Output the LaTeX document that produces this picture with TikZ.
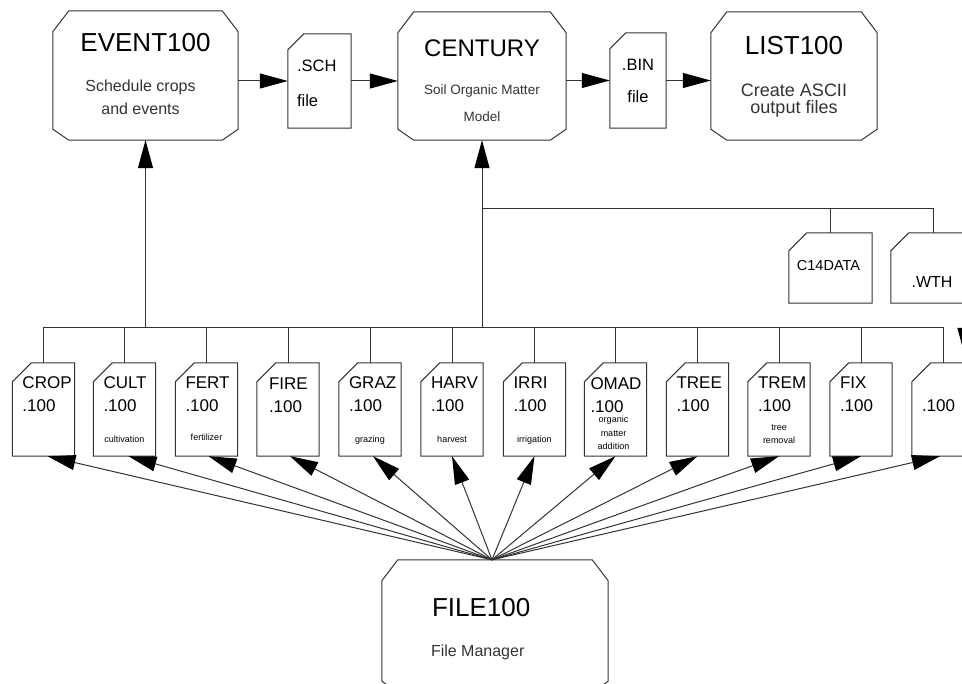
\documentclass[tikz,border=0pt]{standalone}
\usepackage{fontspec}
\setmainfont{Liberation Sans}
\usetikzlibrary{arrows.meta}

% outline of a program box, corners cut
\newcommand{\progbox}[1]{%
  \draw[wire] ([xshift=16pt]#1.north west) -- ([xshift=-16pt]#1.north east)
    -- ([yshift=-21pt]#1.north east) -- ([yshift=11pt]#1.south east)
    -- ([xshift=-16pt]#1.south east) -- ([xshift=16pt]#1.south west)
    -- ([yshift=11pt]#1.south west) -- ([yshift=-21pt]#1.north west) -- cycle;}
% outline of a data file, top left corner cut
\newcommand{\filebox}[2]{%
  \draw[wire] ([xshift=#2]#1.north west) -- (#1.north east) -- (#1.south east)
    -- (#1.south west) -- ([yshift=-#2]#1.north west) -- cycle;}

\begin{document}
\begin{tikzpicture}[x=1pt, y=-1pt,
    wire/.style={draw=black!80, line width=1pt},
    flow/.style={wire, -{Triangle[length=28pt,width=15pt,color=black]}},
    prog/.style={shape=rectangle, inner sep=0pt},
    doc/.style={shape=rectangle, inner sep=0pt},
    lowdoc/.style={doc, minimum width=62pt, minimum height=93pt},
    bigttl/.style={inner sep=0pt, font=\fontsize{26}{30}\selectfont},
    desc/.style={inner sep=0pt, text=black!80, align=center},
    ftitle/.style={inner sep=0pt, anchor=north west, align=left, font=\fontsize{17}{23}\selectfont},
    fdesc/.style={inner sep=0pt, align=center, font=\fontsize{9}{13.5}\selectfont}]
    \useasboundingbox (0,0) rectangle (962,684);
    \clip (0,0) rectangle (962,684);

    % programs
    \node[prog, minimum width=185pt, minimum height=129pt] (event) at (145.5,75.5) {};
    \node[prog, minimum width=168pt, minimum height=128pt] (century) at (482,76) {};
    \node[prog, minimum width=166pt, minimum height=128pt] (list) at (794,76) {};
    \node[prog, minimum width=226pt, minimum height=132pt] (file) at (495,626) {};
    \progbox{event}
    \progbox{century}
    \progbox{list}
    \progbox{file}

    \node[bigttl, anchor=base] (event-t) at ([yshift=-41pt]event.north) {EVENT100};
    \node[desc, anchor=north, font=\fontsize{16}{23}\selectfont] (event-d) at ([xshift=-5pt,yshift=-69pt]event.north) {Schedule crops\\and events};
    \node[bigttl, anchor=base, font=\fontsize{24}{28}\selectfont] (century-t) at ([yshift=-45pt]century.north) {CENTURY};
    \node[desc, anchor=north, font=\fontsize{13.5}{27}\selectfont] (century-d) at ([yshift=-73pt]century.north) {Soil Organic Matter\\Model};
    \node[bigttl, anchor=base] (list-t) at ([yshift=-43pt]list.north) {LIST100};
    \node[desc, anchor=north, font=\fontsize{18}{17}\selectfont] (list-d) at ([yshift=-72pt]list.north) {Create ASCII\\output files};
    \node[bigttl, anchor=base west] (file-t) at ([xshift=50pt,yshift=-57pt]file.north west) {FILE100};
    \node[desc, anchor=base west, font=\fontsize{16}{20}\selectfont] (file-d) at ([xshift=49pt,yshift=-97pt]file.north west) {File Manager};

    % files between programs
    \node[doc, minimum width=63pt, minimum height=94pt] (sch) at (319.5,81) {};
    \node[doc, minimum width=56pt, minimum height=95pt] (bin) at (638,80.5) {};
    \node[doc, minimum width=83pt, minimum height=70pt] (c14) at (830.5,268) {};
    \node[doc, minimum width=84pt, minimum height=70pt] (wth) at (933,268) {};
    \filebox{sch}{16pt}
    \filebox{bin}{16pt}
    \filebox{c14}{18pt}
    \filebox{wth}{18pt}
    \node[ftitle, font=\fontsize{16.5}{35}\selectfont] (sch-t) at ([xshift=9pt,yshift=-26pt]sch.north west) {.SCH\\file};
    \node[desc, text=black, anchor=north, font=\fontsize{16.5}{32}\selectfont] (bin-t) at ([yshift=-26pt]bin.north) {.BIN\\file};
    \node[desc, text=black, anchor=base, font=\fontsize{14.5}{18}\selectfont] (c14-t) at ([xshift=-2pt,yshift=-38pt]c14.north) {C14DATA};
    \node[desc, text=black, anchor=base, font=\fontsize{16}{20}\selectfont] (wth-t) at ([xshift=-1pt,yshift=-55pt]wth.north) {.WTH};

    % .100 files
    \node[lowdoc] (crop) at (43.5,409.5) {};
    \node[lowdoc] (cult) at (124.5,409.5) {};
    \node[lowdoc] (fert) at (206.5,409.5) {};
    \node[lowdoc] (fire) at (288,409.5) {};
    \node[lowdoc] (graz) at (370,409.5) {};
    \node[lowdoc] (harv) at (452,409.5) {};
    \node[lowdoc] (irri) at (534.5,409.5) {};
    \node[lowdoc] (omad) at (615.5,409.5) {};
    \node[lowdoc] (tree) at (697.5,409.5) {};
    \node[lowdoc] (trem) at (779,409.5) {};
    \node[lowdoc] (fix) at (861,409.5) {};
    \node[lowdoc] (blank) at (943,409.5) {};
    \filebox{crop}{19pt}
    \filebox{cult}{19pt}
    \filebox{fert}{19pt}
    \filebox{fire}{19pt}
    \filebox{graz}{19pt}
    \filebox{harv}{19pt}
    \filebox{irri}{19pt}
    \filebox{omad}{19pt}
    \filebox{tree}{19pt}
    \filebox{trem}{19pt}
    \filebox{fix}{19pt}
    \filebox{blank}{19pt}

    \node[ftitle] (crop-t) at ([xshift=10pt,yshift=-14pt]crop.north west) {CROP\\.100};
    \node[ftitle] (cult-t) at ([xshift=10pt,yshift=-14pt]cult.north west) {CULT\\.100};
    \node[ftitle] (fert-t) at ([xshift=10pt,yshift=-14pt]fert.north west) {FERT\\.100};
    \node[ftitle] (fire-t) at ([xshift=12pt,yshift=-15pt]fire.north west) {FIRE\\.100};
    \node[ftitle] (graz-t) at ([xshift=10pt,yshift=-14pt]graz.north west) {GRAZ\\.100};
    \node[ftitle] (harv-t) at ([xshift=10pt,yshift=-14pt]harv.north west) {HARV\\.100};
    \node[ftitle] (irri-t) at ([xshift=10pt,yshift=-14pt]irri.north west) {IRRI\\.100};
    \node[ftitle] (omad-t) at ([xshift=6pt,yshift=-15pt]omad.north west) {OMAD\\.100};
    \node[ftitle] (tree-t) at ([xshift=10pt,yshift=-14pt]tree.north west) {TREE\\.100};
    \node[ftitle] (trem-t) at ([xshift=10pt,yshift=-14pt]trem.north west) {TREM\\.100};
    \node[ftitle] (fix-t) at ([xshift=10pt,yshift=-14pt]fix.north west) {FIX\\.100};
    \node[ftitle] (blank-t) at ([xshift=10pt,yshift=-14pt]blank.north west) {\vphantom{C}\\.100};

    \node[fdesc, anchor=base] (cult-d) at ([yshift=14pt]cult.south) {cultivation};
    \node[fdesc, anchor=base] (fert-d) at ([yshift=16pt]fert.south) {fertilizer};
    \node[fdesc, anchor=base] (graz-d) at ([yshift=14pt]graz.south) {grazing};
    \node[fdesc, anchor=base] (harv-d) at ([yshift=14pt]harv.south) {harvest};
    \node[fdesc, anchor=base] (irri-d) at ([yshift=14pt]irri.south) {irrigation};
    \node[fdesc, anchor=south] (omad-d) at ([xshift=-2pt,yshift=6pt]omad.south) {organic\\matter\\addition};
    \node[fdesc, anchor=south] (trem-d) at ([yshift=12pt]trem.south) {tree\\removal};

    \coordinate (bus) at (0,328);
    \coordinate (upbus) at (0,209);
    \coordinate (src) at ([xshift=-3pt]file.north);
    \coordinate (rtop) at (965,300);
    \coordinate (rtip) at (965,356);

    % top row
    \draw[flow] (event.east |- sch.west) -- (sch.west);
    \draw[flow] (sch.east) -- (sch.east -| century.west);
    \draw[flow] (century.east |- bin.west) -- (bin.west);
    \draw[flow] (bin.east) -- (bin.east -| list.west);

    % buses
    \draw[flow] (event.south |- bus) -- (event.south);
    \draw[flow] (century.south |- bus) -- (century.south);
    \draw[wire] (century.south |- upbus) -- (wth.north |- upbus) -- (wth.north);
    \draw[wire] (c14.north |- upbus) -- (c14.north);
    \draw[wire] (crop.north) -- (crop.north |- bus) -- (blank.north |- bus) -- (blank.north);
    \draw[wire] (cult.north) -- (cult.north |- bus);
    \draw[wire] (fert.north) -- (fert.north |- bus);
    \draw[wire] (fire.north) -- (fire.north |- bus);
    \draw[wire] (graz.north) -- (graz.north |- bus);
    \draw[wire] (harv.north) -- (harv.north |- bus);
    \draw[wire] (irri.north) -- (irri.north |- bus);
    \draw[wire] (omad.north) -- (omad.north |- bus);
    \draw[wire] (tree.north) -- (tree.north |- bus);
    \draw[wire] (trem.north) -- (trem.north |- bus);
    \draw[wire] (fix.north) -- (fix.north |- bus);
    \draw[flow] (rtop) -- (rtip);

    % FILE100 to the .100 files
    \draw[flow] (src) -- ([xshift=4pt]crop.south);
    \draw[flow] (src) -- ([xshift=4pt]cult.south);
    \draw[flow] (src) -- ([xshift=2pt]fert.south);
    \draw[flow] (src) -- ([xshift=2pt]fire.south);
    \draw[flow] (src) -- ([xshift=3pt]graz.south);
    \draw[flow] (src) -- (harv.south);
    \draw[flow] (src) -- (irri.south);
    \draw[flow] (src) -- (omad.south);
    \draw[flow] (src) -- (tree.south);
    \draw[flow] (src) -- (trem.south);
    \draw[flow] (src) -- (fix.south);
    \draw[flow] (src) -- ([xshift=-3pt]blank.south);
\end{tikzpicture}
\end{document}
